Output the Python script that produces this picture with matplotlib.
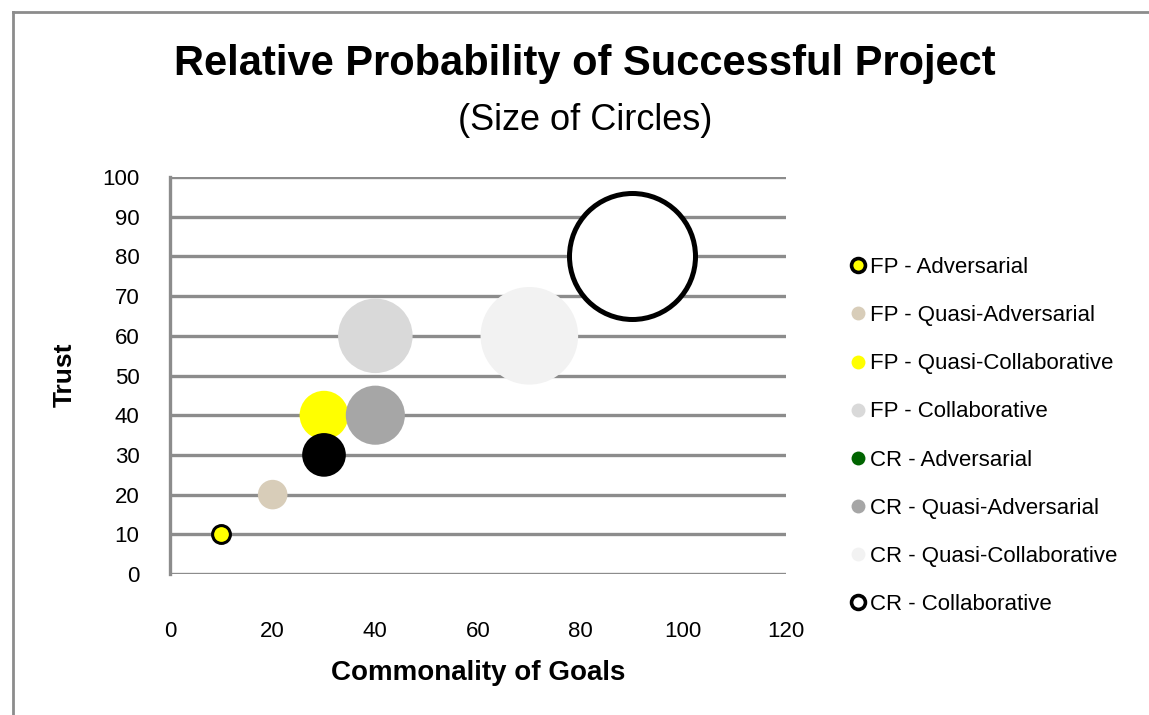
import matplotlib
matplotlib.use("Agg")
import matplotlib.pyplot as plt
from matplotlib.lines import Line2D

plt.rcParams['font.family'] = ['Liberation Sans', 'DejaVu Sans']

# series data
series = ["FP - Adversarial", "FP - Quasi-Adversarial", "FP - Quasi-Collaborative",
          "FP - Collaborative", "CR - Adversarial", "CR - Quasi-Adversarial",
          "CR - Quasi-Collaborative", "CR - Collaborative"]
goals = [10, 20, 30, 40, 30, 40, 70, 90]
trust = [10, 20, 40, 60, 30, 40, 60, 80]
probability = [2, 5.5, 15, 35, 12, 22, 60, 100]

# styles
fill_colors = ["#FFFF00", "#D8CDB9", "#FFFF00", "#D9D9D9", "#000000", "#A6A6A6", "#F2F2F2", "#FFFFFF"]
legend_colors = ["#FFFF00", "#D8CDB9", "#FFFF00", "#D9D9D9", "#006400", "#A6A6A6", "#F2F2F2", "#FFFFFF"]
edge_widths = [2.2, 0, 0, 0, 0, 0, 0, 3.6]

GRID = "#8C8C8C"
W, H = 1149, 715

fig = plt.figure(figsize=(W / 100, H / 100), dpi=100)
ax = fig.add_axes([170 / W, 1 - 574 / H, 616 / W, 397 / H])

# bubble area proportional to value, 100 -> radius ~63 px
scale = (63 * 0.72 * 2) ** 2 / 100
for i in range(len(series)):
    ax.scatter(goals[i], trust[i], s=probability[i] * scale, color=fill_colors[i],
               edgecolors="black" if edge_widths[i] > 0 else "none",
               linewidths=edge_widths[i], zorder=3, clip_on=False)

ax.set_xlim(0, 120)
ax.set_ylim(0, 100)
ax.set_xticks(range(0, 121, 20))
ax.set_yticks(range(0, 101, 10))
ax.tick_params(length=0, labelsize=16, colors="black")
ax.tick_params(axis="y", pad=22)
ax.tick_params(axis="x", pad=34)
ax.yaxis.grid(True, color=GRID, linewidth=2.4, zorder=1)
ax.set_axisbelow(True)
for side in ["top", "right", "bottom"]:
    ax.spines[side].set_visible(False)
ax.spines["left"].set_color(GRID)
ax.spines["left"].set_linewidth(2.4)

fig.text(65 / W, 1 - 375 / H, "Trust", rotation=90, ha="center", va="center",
         fontsize=19, fontweight="bold")
fig.text(478 / W, 1 - 673 / H, "Commonality of Goals", ha="center", va="center",
         fontsize=20, fontweight="bold")
fig.text(585 / W, 1 - 64 / H, "Relative Probability of Successful Project", ha="center",
         va="center", fontsize=30, fontweight="bold")
fig.text(585 / W, 1 - 121 / H, "(Size of Circles)", ha="center", va="center", fontsize=26)

handles = []
for i in range(len(series)):
    handles.append(Line2D([], [], linestyle="none", marker="o", markersize=10,
                          markerfacecolor=legend_colors[i],
                          markeredgecolor="black" if edge_widths[i] else legend_colors[i],
                          markeredgewidth=2.6 if edge_widths[i] else 0))
fig.legend(handles, series, loc="center left", bbox_to_anchor=(838 / W, 1 - 436 / H),
           frameon=False, fontsize=16, labelspacing=1.22, handletextpad=0.05,
           handlelength=1.0, borderaxespad=0)

# outer chart frame
fig.add_artist(Line2D([13 / W, 13 / W], [0, 1 - 12 / H], color=GRID, linewidth=2))
fig.add_artist(Line2D([13 / W, 1], [1 - 12 / H, 1 - 12 / H], color=GRID, linewidth=2))

fig.savefig("out.png", dpi=100)
